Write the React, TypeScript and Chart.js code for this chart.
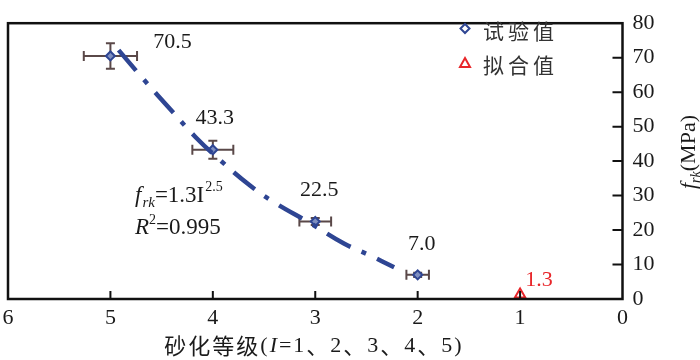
import React, { useEffect, useRef } from "react";
import { Chart, registerables } from "chart.js";

Chart.register(...registerables);

// Experimental values
const grades = [5, 4, 3, 2];
const strength = [70.5, 43.3, 22.5, 7.0];
const gradeErr = [0.26, 0.2, 0.155, 0.11];
const strengthErr = [3.7, 2.6, 1.0, 0.6];
const strengthLabels = ["70.5", "43.3", "22.5", "7.0"];

// Fitted value
const fitGrade = [1];
const fitStrength = [1.3];
const fitLabels = ["1.3"];

// Fitted curve
const curveX = [4.92, 4.67, 4.42, 4.17, 3.93, 3.64, 3.4, 3.06, 2.72, 2.47, 2.23];
const curveY = [72.2, 63.5, 55.2, 47.0, 40.3, 33.0, 28.0, 22.2, 16.1, 12.7, 9.2];

const xTicks = [0, 1, 2, 3, 4, 5, 6];
const yTicks = [0, 10, 20, 30, 40, 50, 60, 70, 80];

const BLUE = "#2e4593";
const RED = "#e8262a";
const ERR = "#5a4848";
const SERIF = "'Liberation Serif', 'Times New Roman', serif";
const CJKF = "'Noto Sans CJK SC', sans-serif";

// label offsets (style): center-x offset and center-y offset from the point, px
const labelOffsets = [
  [62, -14],
  [2, -32],
  [4, -31],
  [4, -31],
];
const fitLabelOffset = [19, -14];

const overlay = {
  id: "overlay",
  beforeDatasetsDraw(chart: any) {
    const { ctx, scales } = chart;
    const xs = scales.x;
    const ys = scales.y;
    ctx.save();
    ctx.strokeStyle = ERR;
    ctx.lineWidth = 2;
    for (let i = 0; i < grades.length; i++) {
      const cx = xs.getPixelForValue(grades[i]);
      const cy = ys.getPixelForValue(strength[i]);
      const x1 = xs.getPixelForValue(grades[i] + gradeErr[i]);
      const x2 = xs.getPixelForValue(grades[i] - gradeErr[i]);
      const y1 = ys.getPixelForValue(strength[i] + strengthErr[i]);
      const y2 = ys.getPixelForValue(strength[i] - strengthErr[i]);
      ctx.beginPath();
      ctx.moveTo(x1, cy);
      ctx.lineTo(x2, cy);
      ctx.moveTo(x1, cy - 5);
      ctx.lineTo(x1, cy + 5);
      ctx.moveTo(x2, cy - 5);
      ctx.lineTo(x2, cy + 5);
      ctx.moveTo(cx, y1);
      ctx.lineTo(cx, y2);
      ctx.moveTo(cx - 4.5, y1);
      ctx.lineTo(cx + 4.5, y1);
      ctx.moveTo(cx - 4.5, y2);
      ctx.lineTo(cx + 4.5, y2);
      ctx.stroke();
    }
    ctx.restore();
  },
  afterDraw(chart: any) {
    const { ctx, chartArea, scales } = chart;
    const xs = scales.x;
    const ys = scales.y;
    const { left, right, top, bottom } = chartArea;
    ctx.save();
    // frame
    ctx.strokeStyle = "#111";
    ctx.lineWidth = 2.5;
    ctx.strokeRect(left, top, right - left, bottom - top);
    // inward ticks
    ctx.lineWidth = 2;
    ctx.beginPath();
    for (const v of xTicks) {
      if (v === 0 || v === 6) continue;
      const px = xs.getPixelForValue(v);
      ctx.moveTo(px, bottom);
      ctx.lineTo(px, bottom - 8);
    }
    for (const v of yTicks) {
      if (v === 0 || v === 80) continue;
      const py = ys.getPixelForValue(v);
      ctx.moveTo(right, py);
      ctx.lineTo(right - 10, py);
    }
    ctx.stroke();

    // value labels
    ctx.font = `22px ${SERIF}`;
    ctx.textAlign = "center";
    ctx.textBaseline = "middle";
    ctx.fillStyle = "#1a1a1a";
    for (let i = 0; i < grades.length; i++) {
      const cx = xs.getPixelForValue(grades[i]);
      const cy = ys.getPixelForValue(strength[i]);
      ctx.fillText(strengthLabels[i], cx + labelOffsets[i][0], cy + labelOffsets[i][1]);
    }
    ctx.fillStyle = RED;
    for (let i = 0; i < fitGrade.length; i++) {
      const cx = xs.getPixelForValue(fitGrade[i]);
      const cy = ys.getPixelForValue(fitStrength[i]);
      ctx.fillText(fitLabels[i], cx + fitLabelOffset[0], cy + fitLabelOffset[1]);
    }

    // equation annotation
    ctx.fillStyle = "#1a1a1a";
    ctx.textAlign = "left";
    ctx.textBaseline = "alphabetic";
    let x = 135;
    let y = 202;
    ctx.font = `italic 23px ${SERIF}`;
    ctx.fillText("f", x, y);
    x += ctx.measureText("f").width + 1;
    ctx.font = `italic 15px ${SERIF}`;
    ctx.fillText("rk", x, y + 5);
    x += ctx.measureText("rk").width;
    ctx.font = `23px ${SERIF}`;
    ctx.fillText("=1.3I", x, y);
    x += ctx.measureText("=1.3I").width + 1;
    ctx.font = `14px ${SERIF}`;
    ctx.fillText("2.5", x, y - 11);

    x = 135;
    y = 234;
    ctx.font = `italic 23px ${SERIF}`;
    ctx.fillText("R", x, y);
    x += ctx.measureText("R").width;
    ctx.font = `14px ${SERIF}`;
    ctx.fillText("2", x, y - 10);
    x += ctx.measureText("2").width;
    ctx.font = `23px ${SERIF}`;
    ctx.fillText("=0.995", x, y);

    // legend
    ctx.lineWidth = 2;
    ctx.strokeStyle = BLUE;
    ctx.fillStyle = "#fff";
    ctx.beginPath();
    ctx.moveTo(465, 24);
    ctx.lineTo(469.5, 28.5);
    ctx.lineTo(465, 33);
    ctx.lineTo(460.5, 28.5);
    ctx.closePath();
    ctx.fill();
    ctx.stroke();
    ctx.strokeStyle = RED;
    ctx.beginPath();
    ctx.moveTo(465, 58);
    ctx.lineTo(470, 67);
    ctx.lineTo(460, 67);
    ctx.closePath();
    ctx.fill();
    ctx.stroke();
    ctx.fillStyle = "#333";
    ctx.font = `21px ${CJKF}`;
    ctx.textBaseline = "middle";
    (ctx as any).letterSpacing = "4px";
    ctx.fillText("试验值", 483, 31);
    ctx.fillText("拟合值", 483, 65);

    // x title
    (ctx as any).letterSpacing = "2px";
    ctx.fillStyle = "#1a1a1a";
    const parts: [string, string][] = [
      ["砂化等级", `22px ${CJKF}`],
      ["(", `22px ${SERIF}`],
      ["I", `italic 22px ${SERIF}`],
      ["=1", `22px ${SERIF}`],
      ["、", `22px ${CJKF}`],
      ["2", `22px ${SERIF}`],
      ["、", `22px ${CJKF}`],
      ["3", `22px ${SERIF}`],
      ["、", `22px ${CJKF}`],
      ["4", `22px ${SERIF}`],
      ["、", `22px ${CJKF}`],
      ["5)", `22px ${SERIF}`],
    ];
    let total = 0;
    for (const [t, f] of parts) {
      ctx.font = f;
      total += ctx.measureText(t).width;
    }
    x = 314 - total / 2;
    for (const [t, f] of parts) {
      ctx.font = f;
      ctx.fillText(t, x, 346);
      x += ctx.measureText(t).width;
    }
    (ctx as any).letterSpacing = "0px";

    // y title (rotated)
    ctx.translate(688, 152);
    ctx.rotate(-Math.PI / 2);
    const yparts: [string, string, number][] = [
      ["f", `italic 22px ${SERIF}`, 0],
      ["rk", `italic 14px ${SERIF}`, 5],
      ["(MPa)", `22px ${SERIF}`, 0],
    ];
    total = 0;
    for (const [t, f] of yparts) {
      ctx.font = f;
      total += ctx.measureText(t).width;
    }
    x = -total / 2;
    ctx.textBaseline = "alphabetic";
    for (const [t, f, dy] of yparts) {
      ctx.font = f;
      ctx.fillText(t, x, 7 + dy);
      x += ctx.measureText(t).width;
    }
    ctx.restore();
  },
};

export default function App() {
  const ref = useRef<HTMLCanvasElement | null>(null);
  useEffect(() => {
    document.body.style.margin = "0";
    const canvas = ref.current;
    if (!canvas) return;
    const chart = new Chart(canvas, {
      type: "scatter",
      data: {
        datasets: [
          {
            label: "fit curve",
            data: curveX.map((x, i) => ({ x, y: curveY[i] })),
            showLine: true,
            borderColor: BLUE,
            borderWidth: 4.5,
            borderDash: [27, 12, 5, 12],
            borderCapStyle: "butt",
            pointRadius: 0,
            tension: 0.4,
            fill: false,
          } as any,
          {
            label: "试验值",
            data: grades.map((x, i) => ({ x, y: strength[i] })),
            pointStyle: "rectRot",
            pointRadius: 4.5,
            borderColor: BLUE,
            backgroundColor: "#7f8fc0",
            borderWidth: 2,
          },
          {
            label: "拟合值",
            data: fitGrade.map((x, i) => ({ x, y: fitStrength[i] })),
            pointStyle: "triangle",
            pointRadius: 6,
            borderColor: RED,
            backgroundColor: "rgba(255,255,255,0)",
            borderWidth: 2,
          },
        ],
      },
      options: {
        responsive: false,
        animation: false,
        layout: { padding: { left: 3, top: 10, right: 0, bottom: 0 } },
        plugins: { legend: { display: false }, tooltip: { enabled: false } },
        scales: {
          x: {
            type: "linear",
            min: 0,
            max: 6,
            reverse: true,
            position: "bottom",
            afterBuildTicks: (s: any) => {
              s.ticks = xTicks.map((v) => ({ value: v }));
            },
            ticks: {
              font: { family: SERIF, size: 22 },
              color: "#1a1a1a",
              padding: 6,
              maxRotation: 0,
              autoSkip: false,
            },
            grid: { display: true, drawOnChartArea: false, drawTicks: false },
            border: { display: false },
            afterFit: (s: any) => {
              s.height = 61;
            },
          },
          y: {
            type: "linear",
            min: 0,
            max: 80,
            position: "right",
            afterBuildTicks: (s: any) => {
              s.ticks = yTicks.map((v) => ({ value: v }));
            },
            ticks: {
              font: { family: SERIF, size: 22 },
              color: "#1a1a1a",
              padding: 10,
              autoSkip: false,
            },
            grid: { display: true, drawOnChartArea: false, drawTicks: false },
            border: { display: false },
            afterFit: (s: any) => {
              s.width = 77.5;
            },
          },
        },
      },
      plugins: [overlay],
    });
    return () => chart.destroy();
  }, []);
  return (
    <div style={{ width: 700, height: 360 }}>
      <canvas ref={ref} width={700} height={360} style={{ display: "block" }} />
    </div>
  );
}
